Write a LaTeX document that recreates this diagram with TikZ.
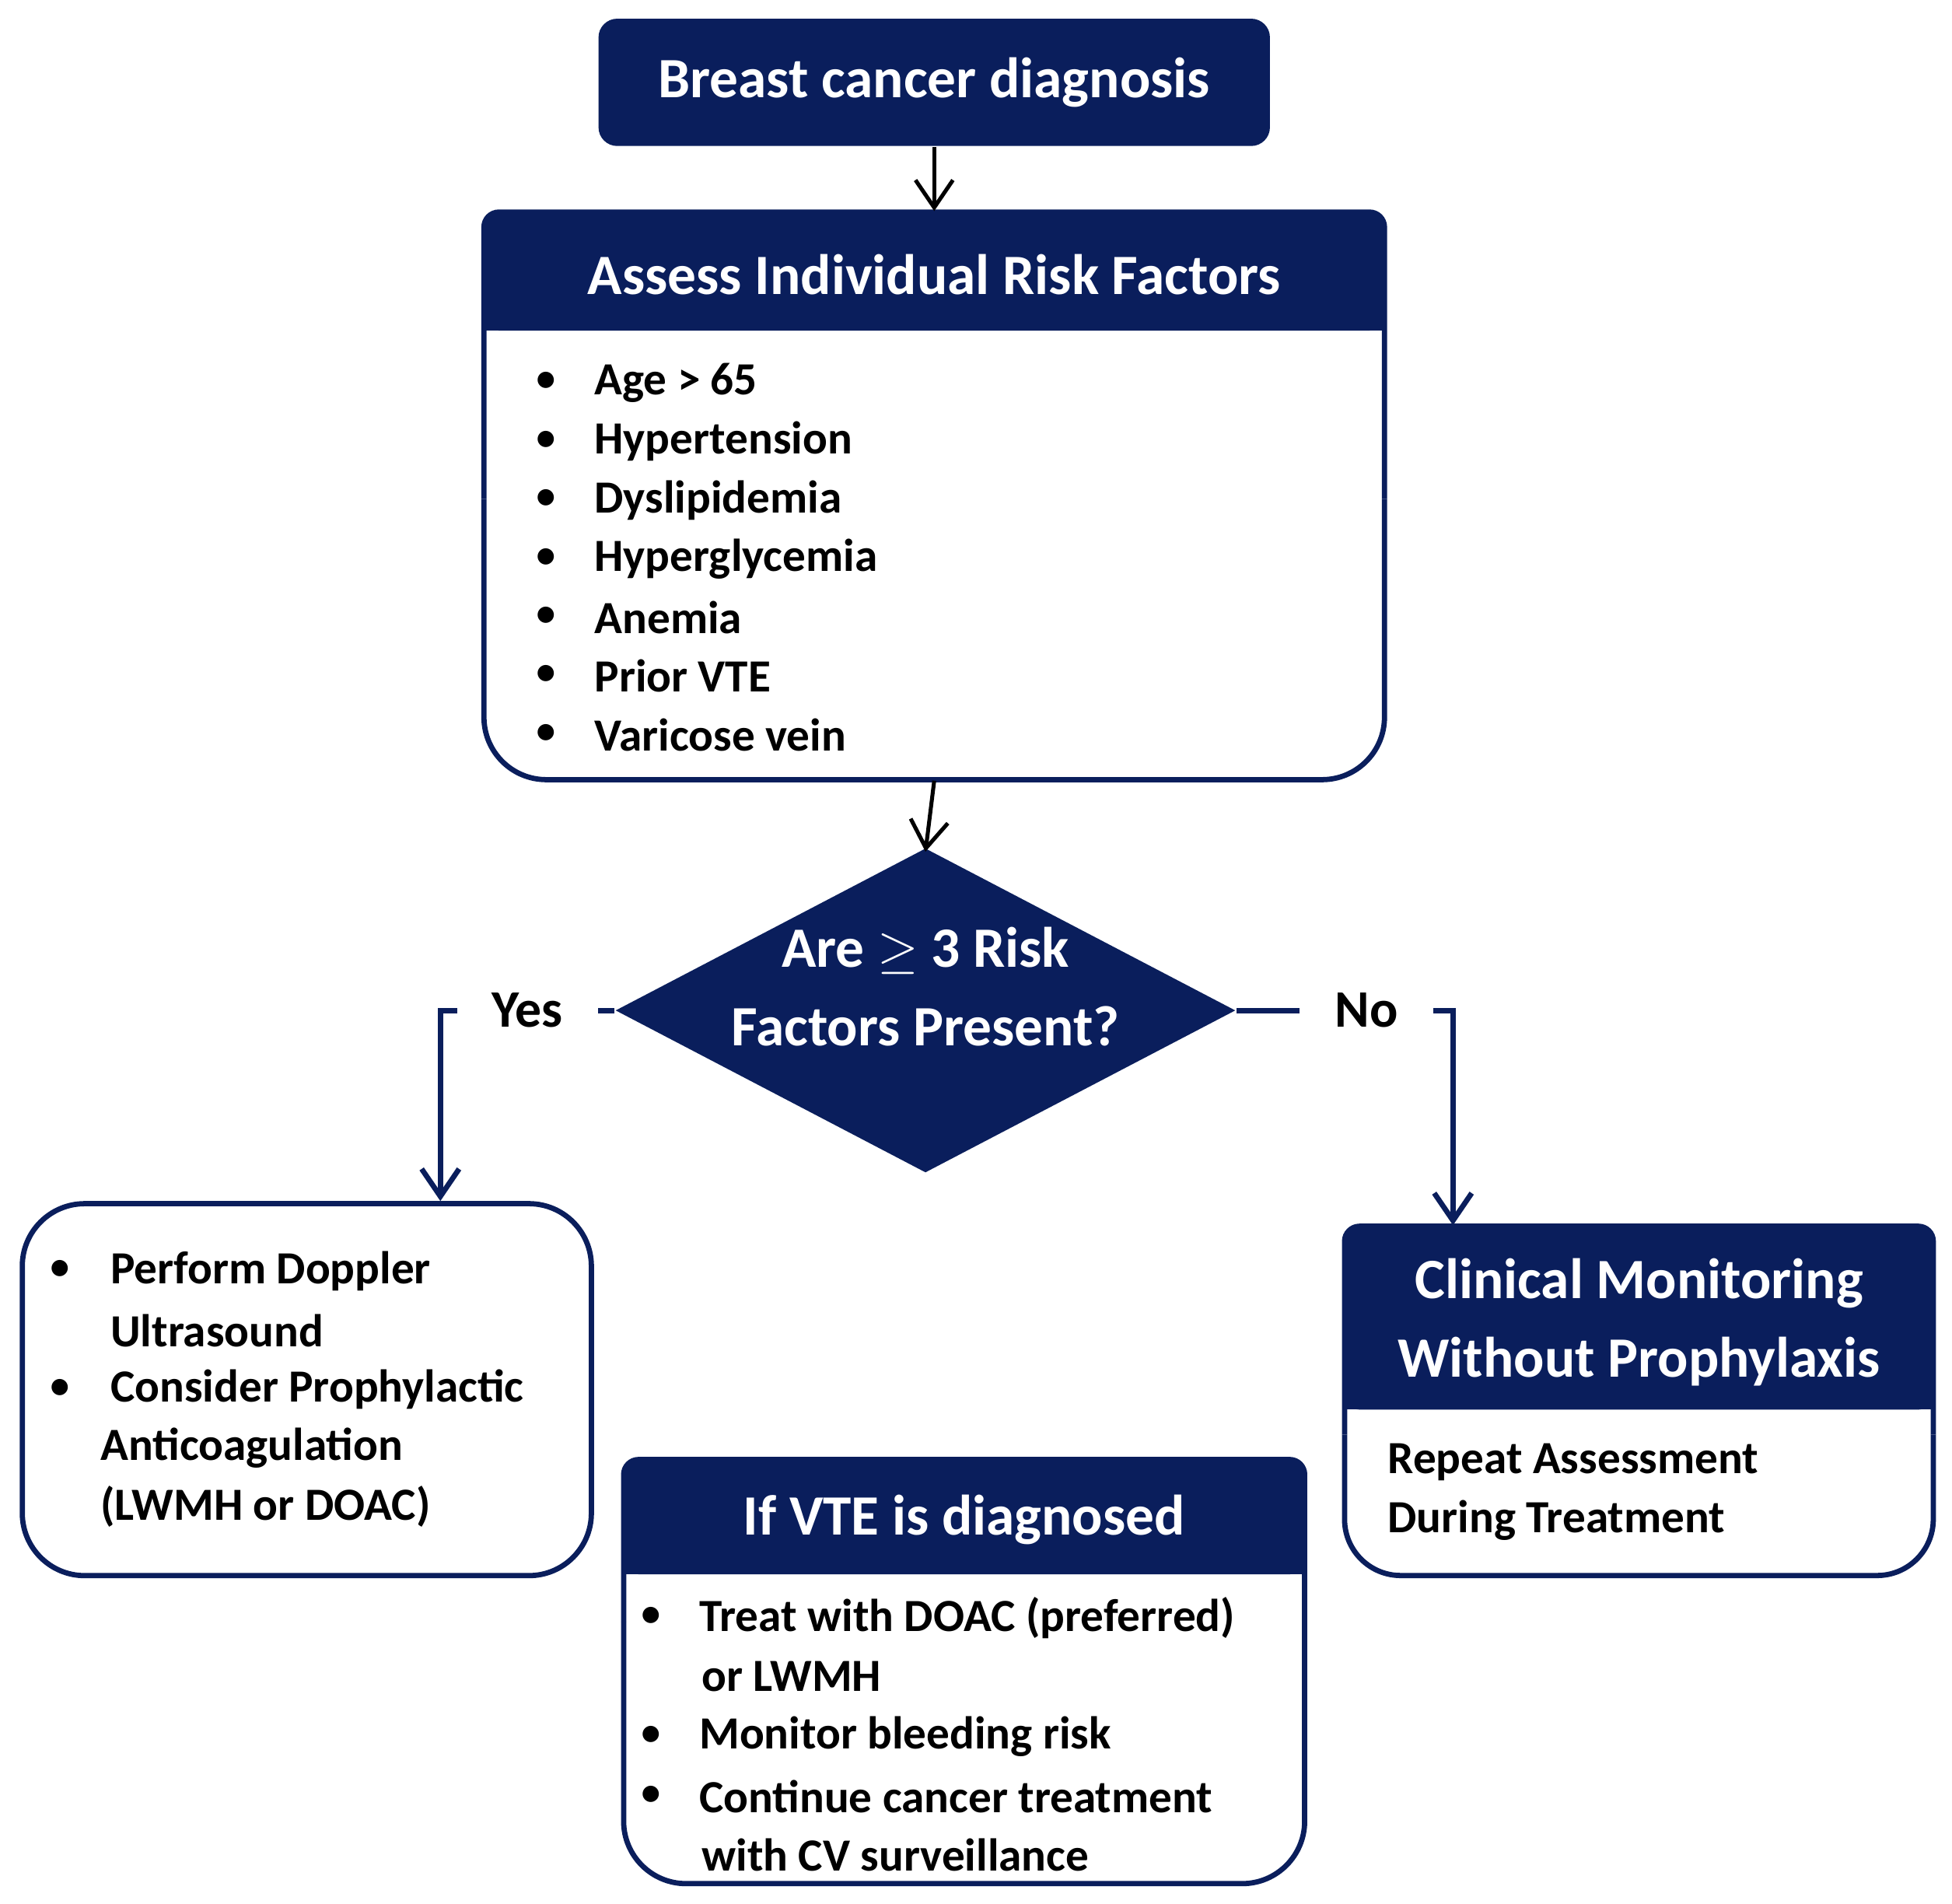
\documentclass[tikz,border=0pt]{standalone}
\usepackage{fontspec}
\setmainfont{Carlito}
\usetikzlibrary{positioning,shapes.geometric,arrows.meta,calc}
\definecolor{navy}{RGB}{10,30,92}

\begin{document}
\begin{tikzpicture}[x=0.01cm, y=-0.01cm]

% Styles
\tikzset{
    frame/.style={draw=navy, line width=1.2pt},
    darkbox/.style={rectangle, fill=navy, rounded corners=0.15cm, text=white, font=\bfseries\fontsize{13}{16}\selectfont, align=center},
    hdr/.style={text=white, font=\bfseries\fontsize{13}{16}\selectfont, align=center},
    item/.style={anchor=west, inner sep=0pt, font=\bfseries\fontsize{10.5}{13}\selectfont},
    bul/.style={inner sep=0pt, font=\fontsize{10.5}{13}\selectfont},
    shell/.style={rectangle, inner sep=0pt},
    flowarrow/.style={-{Straight Barb[length=2.2mm, width=3mm]}, line width=0.9pt, black},
    link/.style={-{Straight Barb[length=2.2mm, width=3mm]}, line width=1.2pt, navy}
}

\useasboundingbox (0,0) rectangle (1565,1526);

% Top box
\node[darkbox, minimum width=5.38cm, minimum height=1.02cm] (diag) at (749,66) {Breast cancer diagnosis};

% Risk factor box
\node[shell, minimum width=7.22cm, minimum height=4.55cm] (assess) at (749,397.5) {};
\fill[navy, rounded corners=0.12cm] (388,170) rectangle (1110,265);
\fill[navy] (388,220) rectangle (1110,265);
\draw[frame, rounded corners=0.12cm] (388,400) -- (388,170) -- (1110,170) -- (1110,400);
\draw[frame, rounded corners=0.5cm] (388,400) -- (388,625) -- (1110,625) -- (1110,400);
\node[hdr] at (749,220) {Assess Individual Risk Factors};
\foreach \t [count=\i] in {Age > 65, Hypertension, Dyslipidemia, Hyperglycemia, Anemia, Prior VTE, Varicose vein} {
    \node[bul] at (438,260+47*\i) {•};
    \node[item] (risk\i) at (476,260+47*\i) {\t};
}

% Decision
\node[diamond, fill=navy, minimum width=4.97cm, minimum height=2.6cm, inner sep=0pt] (q) at (742,810) {};
\node[hdr] (qtext) at (742,791) {Are $\geq$ 3 Risk\\[2pt]Factors Present?};

% Yes branch box
\node[shell, frame, rounded corners=0.5cm, minimum width=4.56cm, minimum height=2.98cm] (lbox) at (246,1114) {};
\node[bul] at (48,1019) {•};
\node[item] (l1) at (88,1019) {Perform Doppler};
\node[item] (l2) at (88,1067) {Ultrasound};
\node[bul] at (48,1114) {•};
\node[item] (l3) at (88,1114) {Consider Prophylactic};
\node[item] (l4) at (80,1161) {Anticoagulation};
\node[item] (l5) at (80,1208) {(LWMH or DOAC)};

% No branch box
\node[shell, minimum width=4.72cm, minimum height=2.8cm] (rbox) at (1314,1123) {};
\fill[navy, rounded corners=0.12cm] (1078,983) rectangle (1550,1130);
\fill[navy] (1078,1060) rectangle (1550,1130);
\draw[frame, rounded corners=0.12cm] (1078,1150) -- (1078,983) -- (1550,983) -- (1550,1150);
\draw[frame, rounded corners=0.45cm] (1078,1150) -- (1078,1263) -- (1550,1263) -- (1550,1150);
\node[hdr] at (1314,1060) {Clinical Monitoring\\[2pt]Without Prophylaxis};
\node[item] (r1) at (1112,1172) {Repeat Assessment};
\node[item] (r2) at (1112,1219) {During Treatment};

% VTE box
\node[shell, minimum width=5.46cm, minimum height=3.4cm] (vte) at (773,1340) {};
\fill[navy, rounded corners=0.12cm] (500,1170) rectangle (1046,1262);
\fill[navy] (500,1220) rectangle (1046,1262);
\draw[frame, rounded corners=0.12cm] (500,1300) -- (500,1170) -- (1046,1170) -- (1046,1300);
\draw[frame, rounded corners=0.5cm] (500,1300) -- (500,1510) -- (1046,1510) -- (1046,1300);
\node[hdr] at (773,1218) {If VTE is diagnosed};
\node[bul] at (522,1297) {•};
\node[item] (v1) at (560,1297) {Treat with DOAC (preferred)};
\node[item] (v2) at (562,1344) {or LWMH};
\node[bul] at (522,1392) {•};
\node[item] (v3) at (560,1392) {Monitor bleeding risk};
\node[bul] at (522,1440) {•};
\node[item] (v4) at (560,1440) {Continue cancer treatment};
\node[item] (v5) at (562,1487) {with CV surveillance};

% Arrows
\draw[flowarrow] (diag.south) -- (diag.south |- assess.north);
\draw[flowarrow] (assess.south) -- ([yshift=-1pt]q.north);
\draw[link] (q.west) -| node[pos=0.25, fill=white, text=black, font=\bfseries\fontsize{12}{14}\selectfont, inner xsep=8pt] {Yes} ([xshift=1.07cm]lbox.north);
\draw[link] (q.east) -| node[pos=0.3, fill=white, text=black, font=\bfseries\fontsize{12}{14}\selectfont, inner xsep=8pt] {No} ([xshift=-1.49cm]rbox.north);

\end{tikzpicture}
\end{document}
